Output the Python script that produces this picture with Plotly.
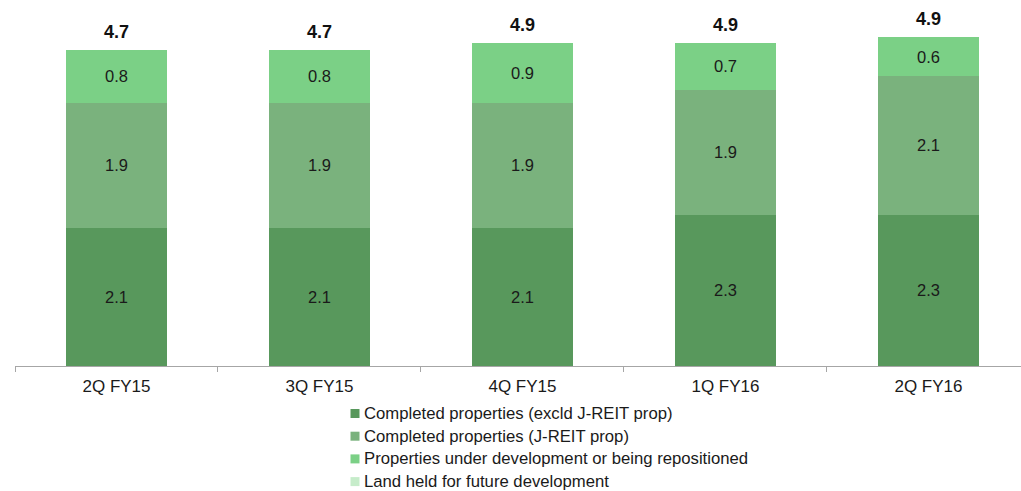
import plotly.graph_objects as go

# Quarterly values (stacked), with the stated totals shown above each bar
quarters = ["2Q FY15", "3Q FY15", "4Q FY15", "1Q FY16", "2Q FY16"]
completed_excl = [2.1, 2.1, 2.1, 2.3, 2.3]
completed_jreit = [1.9, 1.9, 1.9, 1.9, 2.1]
under_dev = [0.8, 0.8, 0.9, 0.7, 0.6]
land_held = [0.0, 0.0, 0.0, 0.0, 0.0]
totals = [4.7, 4.7, 4.9, 4.9, 4.9]

series_names = [
    "Completed properties (excld J-REIT prop)",
    "Completed properties (J-REIT prop)",
    "Properties under development or being repositioned",
    "Land held for future development",
]
series_values = [completed_excl, completed_jreit, under_dev, land_held]
series_colors = ["#58985C", "#7AB27D", "#7BD086", "#C6ECCA"]

FONT = "Liberation Sans, Arial, sans-serif"
NARROW = "Liberation Sans Narrow, Arial Narrow, Liberation Sans, sans-serif"

W, H = 1021, 491
ML, MB = 15, 125
PLOT_W, PLOT_H = W - ML, H - MB


def px_to_paper(xp, yp):
    return (xp - ML) / PLOT_W, (PLOT_H - yp) / PLOT_H


fig = go.Figure()
for name, vals, col in zip(series_names, series_values, series_colors):
    fig.add_trace(go.Bar(
        x=quarters,
        y=vals,
        name=name,
        marker=dict(color=col, line=dict(width=0)),
        width=0.5,
        text=[f"{v:.1f}" if v > 0 else "" for v in vals],
        textposition="inside",
        insidetextanchor="middle",
        textangle=0,
        textfont=dict(family=FONT, size=16.5, color="#1A1A1A"),
        hoverinfo="skip",
        showlegend=False,
    ))

# Totals above each stacked bar
for q, a, b, c, d, t in zip(quarters, completed_excl, completed_jreit, under_dev, land_held, totals):
    fig.add_annotation(
        x=q, y=a + b + c + d, text=f"<b>{t:.1f}</b>",
        showarrow=False, yanchor="bottom", yshift=6,
        font=dict(family=NARROW, size=18, color="#111111"),
    )

# Legend: square swatches with series names, stacked below the axis
sw = 9
for i, (name, col) in enumerate(zip(series_names, series_colors)):
    cy = 413.5 + i * 22.7
    x0, y0 = px_to_paper(350.5, cy + sw / 2)
    x1, y1 = px_to_paper(350.5 + sw, cy - sw / 2)
    fig.add_shape(type="rect", xref="paper", yref="paper",
                  x0=x0, y0=y0, x1=x1, y1=y1,
                  fillcolor=col, line=dict(width=0))
    tx, ty = px_to_paper(362, cy)
    fig.add_annotation(xref="paper", yref="paper", x=tx, y=ty,
                       text=name, showarrow=False,
                       xanchor="left", yanchor="middle",
                       font=dict(family=FONT, size=16.7, color="#1A1A1A"))

fig.update_layout(
    barmode="stack",
    width=W,
    height=H,
    margin=dict(l=ML, r=0, t=0, b=MB, autoexpand=False),
    paper_bgcolor="white",
    plot_bgcolor="white",
    font=dict(family=FONT, size=16, color="#1A1A1A"),
    uniformtext=dict(minsize=8, mode="show"),
    showlegend=False,
    xaxis=dict(
        range=[-0.5, 4.456],
        showline=True,
        linecolor="#A6A6A6",
        linewidth=1,
        ticks="outside",
        tickson="boundaries",
        ticklen=5,
        tickcolor="#A6A6A6",
        ticklabelstandoff=5,
        showgrid=False,
        tickfont=dict(family=FONT, size=17, color="#1A1A1A"),
    ),
    yaxis=dict(
        range=[0, 5.56],
        visible=False,
        showgrid=False,
        zeroline=False,
    ),
)

fig.write_html("out.html")
